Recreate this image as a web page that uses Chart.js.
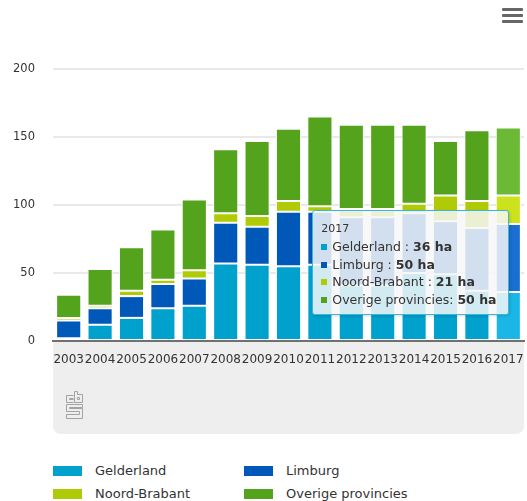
<!DOCTYPE html>
<html>
<head>
<meta charset="utf-8">
<script src="https://cdn.jsdelivr.net/npm/chart.js@4.4.1/dist/chart.umd.min.js"></script>
<style>
  body { margin: 0; background: #fff; font-family: "DejaVu Sans", sans-serif; color: #333; }
  #wrap { position: relative; width: 527px; height: 501px; overflow: hidden; }
  #panel { position: absolute; left: 53px; top: 341px; width: 471px; height: 93px; background: #eeeeee; border-radius: 0 0 8px 8px; }
  #chart { position: absolute; left: 0; top: 0; }
  #logo { position: absolute; left: 65px; top: 391px; }
  .menu-bar { position: absolute; left: 502px; width: 21px; height: 3px; background: #666; border-radius: 1px; }
  #tip { position: absolute; box-sizing: border-box; background: rgba(247, 247, 247, 0.85); border: 1px solid #3bb5da; border-radius: 3px; box-shadow: 1px 1px 3px rgba(0, 0, 0, 0.15); padding: 9px 8px 0 8px; }
  #tip .head { font-size: 11px; line-height: 17.6px; }
  #tip .row { font-size: 12.5px; line-height: 17.6px; white-space: nowrap; }
  #tip .dot { display: inline-block; width: 6px; height: 6px; margin-right: 5px; vertical-align: 1px; }
  #legend { position: absolute; left: 53px; top: 459px; }
  .leg-item { position: absolute; width: 190px; font-size: 13px; line-height: 23px; white-space: nowrap; }
  .leg-box { display: inline-block; width: 29px; height: 10px; margin-right: 13px; vertical-align: -1px; }
</style>
</head>
<body>
<div id="wrap">
  <div id="panel"></div>
  <canvas id="chart" width="527" height="380"></canvas>
  <div class="menu-bar" style="top: 8px;"></div>
  <div class="menu-bar" style="top: 14px;"></div>
  <div class="menu-bar" style="top: 20px;"></div>
  <svg id="logo" width="19" height="29" viewBox="0 0 19 29">
    <g fill="none" stroke="#a3a3a3" stroke-width="1">
      <path d="M8.5 4.5 H1.5 V11.5 H8.5 M8.5 7.5 H4.5 V8.5 H8.5" />
      <path d="M9.5 0.5 H12.5 V3.5 H17.5 V11.5 H9.5 Z M12.5 6.5 H14.5 V8.5 H12.5 Z" />
      <path d="M17.5 13.5 H1.5 V20.5 H14.5 V23.5 H1.5 V27.5 H17.5 V17.5 H4.5 V16.5 H17.5 Z" />
    </g>
  </svg>
  <div id="tip"></div>
  <div id="legend"></div>
</div>
<script>
const years = ["2003", "2004", "2005", "2006", "2007", "2008", "2009", "2010", "2011", "2012", "2013", "2014", "2015", "2016", "2017"];
const gelderland = [2, 12, 17, 24, 26, 57, 56, 55, 56, 41, 41, 50, 49, 37, 36];
const limburg = [13, 12, 16, 18, 20, 30, 28, 40, 39, 50, 50, 44, 39, 46, 50];
const noordBrabant = [2, 2, 4, 3, 6, 7, 8, 8, 4, 6, 6, 7, 19, 20, 21];
const overige = [17, 27, 32, 37, 52, 47, 55, 53, 66, 62, 62, 58, 40, 52, 50];
const seriesNames = ["Gelderland", "Limburg", "Noord-Brabant", "Overige provincies"];
const seriesColors = ["#00a1cd", "#0058b8", "#afcb05", "#53a31d"];
const hoverColors = ["#1ab7e6", "#1a6fd1", "#cbe21c", "#6cb936"];
const yTicks = [0, 50, 100, 150, 200];
const unit = "ha";
const hoverIndex = years.length - 1;

const seriesValues = [gelderland, limburg, noordBrabant, overige];

document.addEventListener("DOMContentLoaded", () => {
  const ctx = document.getElementById("chart").getContext("2d");

  const datasets = seriesNames.map((name, i) => ({
    label: name,
    data: seriesValues[i],
    backgroundColor: (c) => (c.dataIndex === hoverIndex ? hoverColors[i] : seriesColors[i]),
    borderColor: "#ffffff",
    borderWidth: 1,
    borderSkipped: false,
    categoryPercentage: 0.8,
    barPercentage: 1,
  }));

  const chart = new Chart(ctx, {
    type: "bar",
    data: { labels: years, datasets },
    options: {
      responsive: false,
      animation: false,
      layout: { padding: { top: 69, right: 3, left: 0, bottom: 0 } },
      plugins: {
        legend: { display: false },
        tooltip: { enabled: false },
      },
      scales: {
        x: {
          stacked: true,
          grid: { display: false, drawTicks: false },
          border: { display: true, color: "#707070", width: 2 },
          ticks: {
            color: "#333",
            font: { family: "DejaVu Sans", size: 12 },
            padding: 12,
            autoSkip: false,
            maxRotation: 0,
          },
          afterFit: (scale) => {
            scale.height = 39;
            // labels may overhang a little, keep the plot full width
            scale.paddingLeft = 0;
            scale.paddingRight = 0;
          },
        },
        y: {
          stacked: true,
          min: 0,
          max: 200,
          afterBuildTicks: (scale) => {
            scale.ticks = yTicks.map((v) => ({ value: v }));
          },
          grid: { color: "#e9e9e9", lineWidth: 2, drawTicks: false },
          border: { display: false },
          ticks: {
            color: "#333",
            font: { family: "DejaVu Sans", size: 11.5 },
            padding: 18,
          },
          afterFit: (scale) => {
            scale.width = 53;
          },
        },
      },
    },
  });

  // Tooltip for the highlighted year
  const tip = document.getElementById("tip");
  let html = `<div class="head">${years[hoverIndex]}</div>`;
  seriesNames.forEach((name, i) => {
    const sep = i === seriesNames.length - 1 ? ": " : " : ";
    html += `<div class="row"><span class="dot" style="background:${seriesColors[i]}"></span>${name}${sep}<b>${seriesValues[i][hoverIndex]} ${unit}</b></div>`;
  });
  tip.innerHTML = html;
  const xs = chart.scales.x;
  const ys = chart.scales.y;
  const right = xs.getPixelForValue(hoverIndex) + 1;
  const top = ys.getPixelForValue(96);
  tip.style.left = (right - 197) + "px";
  tip.style.top = top + "px";
  tip.style.width = "197px";
  tip.style.height = "105px";

  // Legend, two columns
  const legend = document.getElementById("legend");
  seriesNames.forEach((name, i) => {
    const item = document.createElement("div");
    item.className = "leg-item";
    item.style.left = (i % 2) * 191 + "px";
    item.style.top = Math.floor(i / 2) * 23 + "px";
    item.innerHTML = `<span class="leg-box" style="background:${seriesColors[i]}"></span>${name}`;
    legend.appendChild(item);
  });
});
</script>
</body>
</html>
